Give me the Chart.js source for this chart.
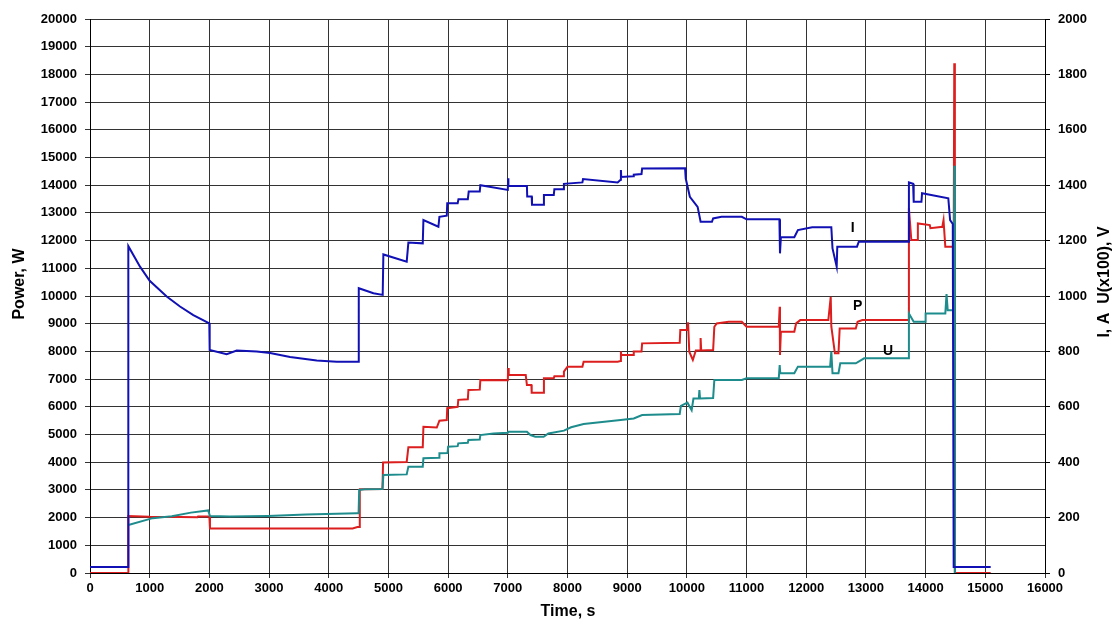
<!DOCTYPE html>
<html>
<head>
<meta charset="utf-8">
<script src="https://cdn.jsdelivr.net/npm/chart.js@4/dist/chart.umd.min.js"></script>
<style>
  html, body { margin: 0; padding: 0; background: #fff; }
  #wrap { width: 1118px; height: 630px; position: relative; }
</style>
</head>
<body>
<div id="wrap"><canvas id="chart-power"></canvas></div>
<script>
// gráfico de potência / corrente / tensão ao longo do tempo

// corrente I (eixo direito, A) — tempos em s
const tI = [0, 640, 642, 838, 1000, 1285, 1508, 1731, 1999, 2005, 2290, 2458, 2793, 3017, 3352, 3799, 4134, 4497,
  4503, 4749, 4904, 4915, 5306, 5334, 5575, 5586, 5837, 5854, 5977, 5985, 6160, 6173, 6330, 6345, 6530, 6540,
  7000, 7005, 7010, 7320, 7325, 7400, 7405, 7600, 7605, 7770, 7780, 7930, 7940, 8250, 8260, 8840, 8890, 8895,
  8900, 9100, 9110, 9240, 9250, 9970, 9980, 10050, 10180, 10230, 10420, 10440, 10580, 10920, 11000, 11550,
  11560, 11575, 11800, 11860, 12100, 12420, 12440, 12510, 12520, 12850, 12880, 13710, 13720, 13790, 13800,
  13930, 13940, 14380, 14410, 14455, 14470, 15090];
const iA = [22, 22, 1180, 1106, 1055, 998, 962, 931, 901, 805, 790, 803, 800, 794, 780, 767, 763, 763,
  1028, 1010, 1004, 1150, 1124, 1193, 1190, 1274, 1250, 1286, 1290, 1335, 1335, 1349, 1349, 1377, 1377, 1400,
  1383, 1425, 1397, 1397, 1359, 1359, 1329, 1329, 1365, 1365, 1385, 1385, 1405, 1410, 1422, 1410, 1420, 1455,
  1430, 1432, 1438, 1440, 1460, 1461, 1425, 1358, 1322, 1268, 1268, 1280, 1286, 1286, 1277, 1277,
  1154, 1212, 1212, 1238, 1248, 1248, 1172, 1106, 1178, 1178, 1196, 1196, 1410, 1405, 1340,
  1340, 1371, 1353, 1274, 1260, 22, 22];

// potência P (eixo esquerdo, W)
const tP = [0, 640, 643, 1000, 1500, 1800, 1810, 2000, 2010, 4400, 4480, 4510, 4520, 4900, 4910, 5306, 5334,
  5575, 5586, 5810, 5854, 5977, 5985, 6160, 6170, 6330, 6340, 6530, 6540, 7000, 7005, 7015, 7300, 7320, 7395,
  7400, 7600, 7605, 7770, 7780, 7930, 7940, 8000, 8250, 8270, 8840, 8890, 8895, 8900, 9100, 9110, 9240, 9250,
  9880, 9890, 10000, 10020, 10040, 10100, 10150, 10220, 10230, 10240, 10440, 10460, 10500, 10700, 10920, 11000,
  11540, 11555, 11560, 11575, 11800, 11830, 11900, 12370, 12410, 12420, 12480, 12540, 12560, 12830, 12860,
  12940, 13710, 13720, 13760, 13860, 13870, 14070, 14080, 14280, 14300, 14330, 14470, 14480, 14490, 15090];
const pW = [0, 0, 2060, 2030, 2020, 2010, 2040, 2040, 1610, 1610, 1660, 1660, 3020, 3030, 3990, 4010, 4540,
  4540, 5280, 5250, 5500, 5520, 5950, 6000, 6250, 6270, 6610, 6620, 6970, 6960, 7400, 7150, 7150, 6790, 6790,
  6510, 6510, 7030, 7030, 7100, 7100, 7270, 7450, 7450, 7630, 7630, 7650, 8000, 7870, 7870, 8000, 8000, 8290,
  8310, 8770, 8780, 9050, 7990, 7690, 8030, 8030, 8480, 8030, 8050, 8890, 9010, 9070, 9070, 8890,
  8890, 9610, 7870, 8710, 8710, 9010, 9130, 9130, 9970, 8900, 7930, 7930, 8830, 8830, 9070,
  9130, 9130, 13170, 12020, 12020, 12620, 12560, 12450, 12500, 12740, 11780, 11780, 18400, 0, 0];

// tensão U (eixo direito, V x100)
const tU = [643, 1050, 1370, 1690, 1980, 2010, 2340, 2980, 3620, 4470, 4500, 4510, 4600, 4900, 4915, 5306,
  5334, 5575, 5586, 5850, 5854, 5990, 6000, 6160, 6170, 6330, 6340, 6530, 6540, 6760, 7000, 7010, 7320, 7380,
  7460, 7600, 7680, 7940, 8060, 8270, 8890, 9110, 9250, 9880, 9900, 10010, 10080, 10110, 10200, 10210, 10220,
  10440, 10460, 10920, 11000, 11540, 11555, 11565, 11800, 11860, 12400, 12420, 12440, 12540, 12570, 12830,
  12970, 13710, 13720, 13800, 13990, 14000, 14330, 14350, 14370, 14470, 14480, 14490];
const uV = [173, 198, 205, 218, 226, 206, 204, 206, 211, 216, 216, 300, 302, 303, 354, 356,
  384, 384, 414, 416, 432, 433, 456, 458, 468, 470, 480, 482, 498, 504, 506, 510, 510, 498,
  492, 492, 504, 514, 526, 538, 552, 558, 570, 574, 603, 615, 588, 630, 630, 660, 630,
  632, 697, 697, 703, 703, 751, 721, 721, 745, 745, 799, 721, 721, 757, 757,
  775, 775, 937, 907, 907, 937, 937, 1007, 949, 949, 1470, 0];

// rótulos das curvas (tempo, valor no eixo esquerdo)
const curveLabels = ['I', 'P', 'U'];
const labelT = [12780, 12860, 13370];
const labelV = [12440, 9620, 8010];

const COLORS = {
  blue: '#1010b4',
  red:  '#dc1e1e',
  teal: '#1e8c8c',
  grid: '#333333',
};

const FONT = 'Liberation Sans, Arial, sans-serif';
Chart.defaults.font.family = FONT;
Chart.defaults.color = '#000';
Chart.defaults.animation = false;

const pts = (t, v) => t.map((x, i) => ({ x, y: v[i] }));
const plain = v => String(v);

// textos extras: títulos dos eixos e rótulos I, P, U
const extraText = {
  id: 'extraText',
  afterDraw(chart) {
    const { ctx, scales } = chart;
    ctx.save();
    ctx.fillStyle = '#000';
    ctx.textAlign = 'center';
    ctx.textBaseline = 'middle';
    ctx.font = 'bold 14px ' + FONT;
    curveLabels.forEach((s, i) => {
      ctx.fillText(s, scales.x.getPixelForValue(labelT[i]), scales.y.getPixelForValue(labelV[i]));
    });
    ctx.font = 'bold 16px ' + FONT;
    ctx.fillText('Time, s', 568, 612);
    ctx.translate(20, 284);
    ctx.rotate(-Math.PI / 2);
    ctx.fillText('Power, W', 0, 0);
    ctx.restore();
    ctx.save();
    ctx.fillStyle = '#000';
    ctx.textAlign = 'center';
    ctx.textBaseline = 'middle';
    ctx.font = 'bold 16px ' + FONT;
    ctx.translate(1105, 282);
    ctx.rotate(-Math.PI / 2);
    ctx.fillText('I, A  U(x100), V', 0, 0);
    ctx.restore();
  }
};

const tickFont = { size: 13, weight: 'bold', family: FONT };

new Chart(document.getElementById('chart-power').getContext('2d'), {
  type: 'line',
  data: {
    datasets: [
      { label: 'I', data: pts(tI, iA), yAxisID: 'y1', borderColor: COLORS.blue, borderWidth: 2, order: 0 },
      { label: 'U', data: pts(tU, uV), yAxisID: 'y1', borderColor: COLORS.teal, borderWidth: 2, order: 1 },
      { label: 'P', data: pts(tP, pW), yAxisID: 'y',  borderColor: COLORS.red,  borderWidth: 2, order: 2 },
    ]
  },
  options: {
    responsive: true, maintainAspectRatio: false,
    layout: { padding: { top: 19, left: 0, right: 0, bottom: 0 } },
    elements: { point: { radius: 0 }, line: { tension: 0, borderJoinStyle: 'miter' } },
    plugins: { legend: { display: false }, tooltip: { enabled: false } },
    scales: {
      x: {
        type: 'linear', min: 0, max: 16000,
        ticks: { stepSize: 1000, font: tickFont, color: '#000', padding: 3, maxRotation: 0, callback: plain },
        grid: { color: COLORS.grid, tickLength: 5 },
        border: { color: '#000' },
        afterFit: s => { s.height = 57; },
      },
      y: {
        position: 'left', min: 0, max: 20000,
        ticks: { stepSize: 1000, font: tickFont, color: '#000', padding: 8, callback: plain },
        grid: { color: COLORS.grid, tickLength: 5 },
        border: { color: '#000' },
        afterFit: s => { s.width = 90; },
      },
      y1: {
        position: 'right', min: 0, max: 2000,
        ticks: { stepSize: 200, font: tickFont, color: '#000', padding: 8, callback: plain },
        grid: { drawOnChartArea: false, color: '#000', tickLength: 5 },
        border: { color: '#000' },
        afterFit: s => { s.width = 73; },
      },
    }
  },
  plugins: [extraText]
});
</script>
</body>
</html>
